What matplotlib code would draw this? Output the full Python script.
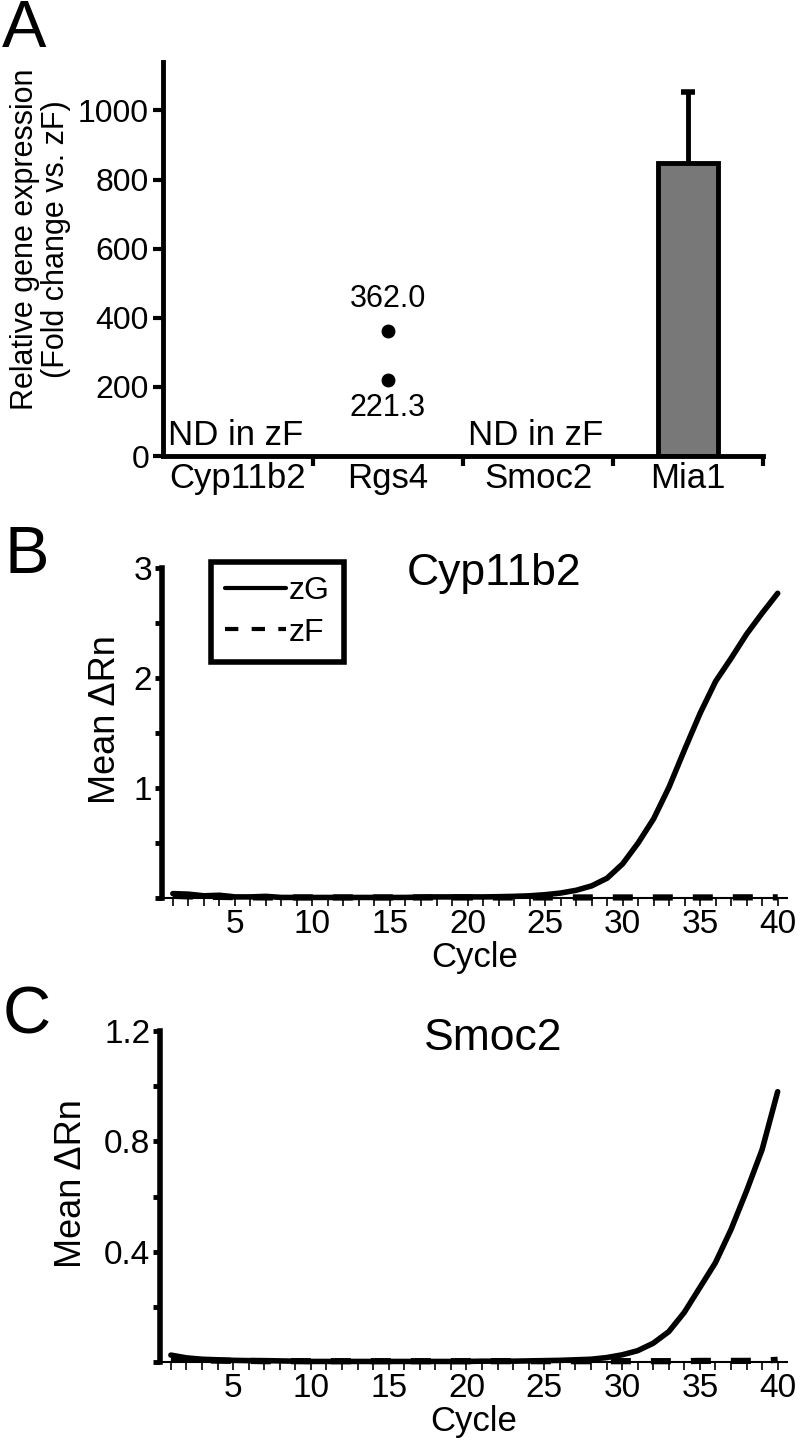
import numpy as np
import matplotlib
matplotlib.use('Agg')
import matplotlib.pyplot as plt
from matplotlib.ticker import MultipleLocator, FixedLocator

plt.rcParams['font.family'] = ['Liberation Sans', 'DejaVu Sans']

# panel A data
genes = ['Cyp11b2', 'Rgs4', 'Smoc2', 'Mia1']
mia1_mean = 847
mia1_err = 205
rgs4_points = [362.0, 221.3]
nd_genes = ['Cyp11b2', 'Smoc2']

# panels B, C: amplification curves (mean dRn per cycle)
cycles = list(range(1, 41))
cyp_zG = [0.04, 0.035, 0.02, 0.025, 0.01, 0.01, 0.015, 0.005, 0.005, 0.005,
          0.005, 0.005, 0.005, 0.005, 0.005, 0.005, 0.008, 0.01, 0.01, 0.01,
          0.01, 0.012, 0.015, 0.02, 0.03, 0.045, 0.07, 0.11, 0.18, 0.31,
          0.50, 0.72, 1.01, 1.35, 1.68, 1.97, 2.18, 2.40, 2.59, 2.77]
cyp_zF = [0.02, 0.015, 0.01, 0.01, 0.008, 0.006, 0.005, 0.005, 0.005, 0.005,
          0.005, 0.005, 0.005, 0.005, 0.005, 0.005, 0.005, 0.005, 0.005, 0.005,
          0.005, 0.005, 0.005, 0.005, 0.005, 0.005, 0.005, 0.005, 0.005, 0.005,
          0.005, 0.005, 0.005, 0.005, 0.005, 0.005, 0.006, 0.006, 0.006, 0.006]
smoc_zG = [0.025, 0.015, 0.01, 0.008, 0.006, 0.005, 0.005, 0.004, 0.003, 0.002,
           0.002, 0.002, 0.002, 0.002, 0.002, 0.002, 0.002, 0.002, 0.002, 0.002,
           0.003, 0.003, 0.003, 0.004, 0.005, 0.006, 0.008, 0.01, 0.016, 0.026,
           0.041, 0.068, 0.11, 0.18, 0.27, 0.36, 0.48, 0.62, 0.77, 0.98]
smoc_zF = [0.01, 0.008, 0.006, 0.005, 0.004, 0.004, 0.003, 0.003, 0.003, 0.003,
           0.003, 0.003, 0.003, 0.003, 0.003, 0.003, 0.003, 0.003, 0.003, 0.003,
           0.003, 0.003, 0.003, 0.003, 0.003, 0.003, 0.003, 0.003, 0.003, 0.003,
           0.003, 0.003, 0.003, 0.003, 0.004, 0.004, 0.004, 0.004, 0.005, 0.008]

fig = plt.figure(figsize=(8, 14.4), dpi=100)
W, H = 800, 1440

def px_axes(left, right, top, bottom):
    return fig.add_axes([left / W, 1 - bottom / H, (right - left) / W, (bottom - top) / H])

# ---- panel A ----
axA = px_axes(163, 763, 62, 456)
x = np.arange(len(genes))
axA.bar(x[3], mia1_mean, width=0.4, color='#787878', edgecolor='black', linewidth=3.5, zorder=2)
# error bar only upward; hide the lower cap
eb = axA.errorbar(x[3], mia1_mean, yerr=[[0], [mia1_err]], fmt='none', ecolor='black',
                  elinewidth=3.5, capsize=5, capthick=4, zorder=1)
eb[1][0].set_visible(False)
axA.plot([x[1]] * len(rgs4_points), rgs4_points, 'o', color='black', markersize=9, zorder=3)
axA.annotate('%.1f' % rgs4_points[0], (x[1], rgs4_points[0]), xytext=(0, 12),
             textcoords='offset points', ha='center', va='bottom', fontsize=22)
axA.annotate('%.1f' % rgs4_points[1], (x[1], rgs4_points[1]), xytext=(0, -10),
             textcoords='offset points', ha='center', va='top', fontsize=22)
for g in nd_genes:
    i = genes.index(g)
    axA.text(i - 0.47, 12, 'ND in zF', ha='left', va='bottom', fontsize=25)

axA.set_xlim(-0.5, 3.5)
axA.set_ylim(0, 1140)
axA.set_yticks(np.arange(0, 1001, 200))
axA.xaxis.set_major_locator(FixedLocator([0.5, 1.5, 2.5, 3.5]))
axA.xaxis.set_minor_locator(FixedLocator(x))
axA.set_xticklabels([])
axA.set_xticklabels(genes, minor=True, fontsize=25)
axA.tick_params(axis='x', which='major', direction='out', length=7, width=3)
axA.tick_params(axis='x', which='minor', length=0, pad=4)
axA.tick_params(axis='y', direction='out', length=7, width=3, labelsize=23, pad=3)
for s in ['top', 'right']:
    axA.spines[s].set_visible(False)
for s in ['left', 'bottom']:
    axA.spines[s].set_linewidth(3.5)
axA.set_ylabel('Relative gene expression\n(Fold change vs. zF)', fontsize=22, linespacing=1.05)
axA.yaxis.set_label_coords(-0.153, 0.55)

# ---- panels B and C ----
def curve_panel(ax, zG, zF, title, ymax, ystep, title_y, lab_x, lab_y, show_legend):
    ax.plot(cycles, zG, '-', color='black', lw=4, solid_capstyle='round', label='zG',
            zorder=3, clip_on=False)
    ax.plot(cycles, zF, '--', color='black', lw=4.5, dashes=(3.2, 3.2), label='zF',
            zorder=2, clip_on=False)
    ax.set_xlim(0.3, 40.6)
    ax.set_ylim(0, ymax)
    ax.xaxis.set_major_locator(FixedLocator(np.arange(5, 41, 5)))
    ax.xaxis.set_minor_locator(MultipleLocator(1))
    ax.yaxis.set_major_locator(FixedLocator(np.arange(ystep, ymax + 1e-9, ystep)))
    ax.yaxis.set_minor_locator(MultipleLocator(ystep / 2))
    ax.tick_params(axis='x', which='both', direction='out', length=6, width=1.2, labelsize=24, pad=2)
    ax.tick_params(axis='y', which='both', direction='out', length=5, width=3.5, labelsize=24, pad=2)
    for s in ['top', 'right']:
        ax.spines[s].set_visible(False)
    ax.spines['left'].set_linewidth(4)
    ax.spines['bottom'].set_linewidth(1.5)
    ax.set_xlabel('Cycle', fontsize=25, labelpad=1)
    ax.set_ylabel('Mean \u0394Rn', fontsize=26)
    ax.yaxis.set_label_coords(lab_x, lab_y)
    ax.text(0.532, title_y, title, transform=ax.transAxes, ha='center', va='baseline', fontsize=32)
    if show_legend:
        leg = ax.legend(loc='upper left', bbox_to_anchor=(0.078, 1.018), fontsize=23,
                        handlelength=1.9, handletextpad=0.1, frameon=True, fancybox=False,
                        framealpha=1, borderpad=0.45, labelspacing=0.35, borderaxespad=0)
        leg.get_frame().set_edgecolor('black')
        leg.get_frame().set_linewidth(4)
        for ln in leg.get_lines():
            ln.set_linewidth(3)

axB = px_axes(162, 787, 568, 898)
curve_panel(axB, cyp_zG, cyp_zF, 'Cyp11b2', 3, 1, 0.948, -0.062, 0.54, True)
axB.set_yticklabels(['1', '2', '3'])

axC = px_axes(160, 787, 1031, 1362)
curve_panel(axC, smoc_zG, smoc_zF, 'Smoc2', 1.2, 0.4, 0.943, -0.113, 0.538, False)
axC.set_yticklabels(['0.4', '0.8', '1.2'])

# panel letters
fig.text(2 / W, 1 - 47 / H, 'A', fontsize=48, va='baseline')
fig.text(5 / W, 1 - 573 / H, 'B', fontsize=48, va='baseline')
fig.text(3 / W, 1 - 1034 / H, 'C', fontsize=48, va='baseline')

fig.savefig('out.png', dpi=100)
